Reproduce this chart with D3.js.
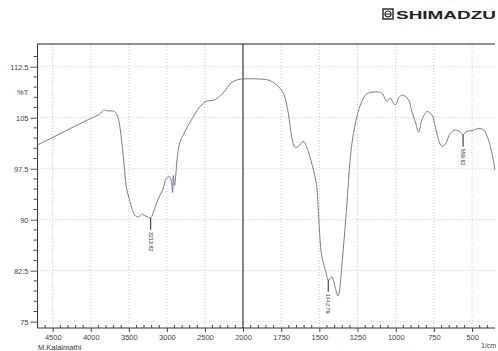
<!DOCTYPE html>
<html><head><meta charset="utf-8">
<script src="https://cdn.jsdelivr.net/npm/d3@7"></script>
<style>
html,body{margin:0;padding:0;background:#fff;}
svg{display:block;}
text{font-family:"Liberation Sans",Arial,sans-serif;}
</style></head>
<body>
<svg id="c" width="498" height="351"></svg>
<script>
// ---- data ----
const wavenumbers = [4700,4500,4200,4000,3885,3832,3780,3720,3687,3647,3595,3578,3556,3533,3490,3424,3384,3360,3331,3290,3252,3213,3170,3121,3055,3006,2962,2940,2925,2915,2900,2880,2870,2831,2765,2660,2567,2486,2380,2289,2200,2158,2065,2000,
  1900,1830,1779,1736,1703,1681,1659,1637,1605,1572,1539,1517,1506,1484,1456,1441,1418,1397,1378,1344,1318,1292,1259,1222,1189,1124,1091,1058,1037,1003,975,949,916,894,872,850,828,795,763,741,719,697,675,643,610,577,559,534,500,457,424,392,370,350];
const transmittance = [101.0,102.1,103.8,104.9,105.5,106.1,106.0,106.0,105.9,105.2,101.7,99.8,97.3,94.8,92.9,90.7,90.4,90.5,90.8,90.6,90.4,90.3,91.3,92.9,94.4,96.1,96.3,95.5,94.0,96.5,95.0,97.0,98.5,101.3,102.9,105.0,106.6,107.4,107.6,108.3,109.5,110.1,110.6,110.7,
  110.7,110.5,109.8,108.6,105.6,102.2,100.6,100.8,101.5,100.0,97.3,94.9,90.9,84.6,82.2,81.1,81.6,80.1,78.8,85.5,92.9,100.3,104.7,107.4,108.5,108.8,108.6,107.4,107.9,106.9,108.1,108.3,107.6,105.9,104.4,102.9,104.7,105.9,105.4,103.7,101.7,100.8,101.1,102.7,103.2,102.9,102.5,103.0,103.1,103.4,103.2,101.7,99.8,97.3];
const yTicks = [75,82.5,90,97.5,105,112.5];
const yTickLabels = ["75","82.5","90","97.5","105","112.5"];
const xTicksLeft = [4500,4000,3500,3000,2500,2000];
const xTicksRight = [1750,1500,1250,1000,750,500];
const peakWn = [3213,1442,559];
const peakLabels = ["3213.82","1442.79","559.82"];

// ---- layout ----
const svg = d3.select("#c");
const L = 37.5, R = 495, T = 44, B = 328;
const x = d3.scaleLinear().domain([4700,2000,350]).range([L,243,R]);
const y = d3.scaleLinear().domain([74.07,115.84]).range([B,T]);

// grid
const grid = svg.append("g").attr("stroke","#b8b8c8").attr("stroke-width",0.8).attr("stroke-dasharray","1,2");
grid.selectAll(".gx").data(xTicksLeft.concat(xTicksRight).filter(d=>d!==2000)).enter().append("line")
  .attr("x1",d=>x(d)).attr("x2",d=>x(d)).attr("y1",T).attr("y2",B);
grid.selectAll(".gy").data(yTicks).enter().append("line")
  .attr("x1",L).attr("x2",R).attr("y1",d=>y(d)).attr("y2",d=>y(d));

// frame
svg.append("line").attr("x1",L).attr("x2",R).attr("y1",T).attr("y2",T).attr("stroke","#222").attr("stroke-width",1.2);
svg.append("line").attr("x1",L).attr("x2",L).attr("y1",T).attr("y2",B).attr("stroke","#333").attr("stroke-width",1);
svg.append("line").attr("x1",L).attr("x2",R).attr("y1",B).attr("y2",B).attr("stroke","#333").attr("stroke-width",1);
svg.append("line").attr("x1",x(2000)).attr("x2",x(2000)).attr("y1",T).attr("y2",B).attr("stroke","#111").attr("stroke-width",1);

// y axis
const yAxis = d3.axisLeft(y).tickValues(yTicks).tickFormat((d,i)=>yTickLabels[i]).tickSize(7).tickPadding(2);
const gy = svg.append("g").attr("transform",`translate(${L},0)`).call(yAxis);
gy.select(".domain").remove();
gy.selectAll("line").attr("stroke","#556");
gy.selectAll("text").attr("font-size",7.5).attr("fill","#444");
const yMinor = d3.range(75,115.5,1.5).filter(v=>!yTicks.some(t=>Math.abs(t-v)<0.01));
svg.append("g").selectAll("line").data(yMinor).enter().append("line")
  .attr("x1",L-4).attr("x2",L).attr("y1",d=>y(d)).attr("y2",d=>y(d)).attr("stroke","#555");
svg.append("text").attr("x",17).attr("y",95).attr("font-size",7.5).attr("fill","#444").text("%T");

// x axis
const gx = svg.append("g").attr("transform",`translate(0,${B})`)
  .call(d3.axisBottom(x).tickValues(xTicksLeft.concat(xTicksRight)).tickSize(4).tickPadding(3).tickFormat(d3.format("d")));
gx.select(".domain").remove();
gx.selectAll("line").attr("stroke","#444");
gx.selectAll("text").attr("font-size",7.5).attr("fill","#444");
const xMinor = d3.range(4600,2000,-100).concat(d3.range(1950,350,-50))
  .filter(v=>!xTicksLeft.concat(xTicksRight).includes(v));
svg.append("g").selectAll("line").data(xMinor).enter().append("line")
  .attr("x1",d=>x(d)).attr("x2",d=>x(d)).attr("y1",B-3).attr("y2",B).attr("stroke","#444");
svg.append("text").attr("x",481).attr("y",348).attr("font-size",7).attr("fill","#444").text("1/cm");
svg.append("text").attr("x",38).attr("y",350).attr("font-size",7.5).attr("fill","#333").text("M.Kalaimathi");

// spectrum
const pts = wavenumbers.map((w,i)=>[w,transmittance[i]]);
svg.append("path").datum(pts)
  .attr("fill","none").attr("stroke","#6c6c82").attr("stroke-width",0.9)
  .attr("d",d3.line().x(d=>x(d[0])).y(d=>y(d[1])).curve(d3.curveCatmullRom));

// peak labels
const interp = w => {
  for (let i=0;i<wavenumbers.length-1;i++){
    const a=wavenumbers[i], b=wavenumbers[i+1];
    if (w<=a && w>=b) { const t=(a-w)/(a-b); return transmittance[i]+t*(transmittance[i+1]-transmittance[i]); }
  }
  return transmittance[0];
};
peakWn.forEach((w,i)=>{
  const px = x(w), py = y(interp(w));
  svg.append("line").attr("x1",px).attr("x2",px).attr("y1",py).attr("y2",py+12).attr("stroke","#222").attr("stroke-width",1);
  svg.append("text").attr("transform",`translate(${px-2},${py+14}) rotate(90)`)
    .attr("font-size",5.5).attr("fill","#333").text(peakLabels[i]);
});

// logo
const logo = svg.append("g").attr("transform","translate(383,9)");
logo.append("rect").attr("x",0).attr("y",0).attr("width",10).attr("height",10).attr("fill","none").attr("stroke","#222").attr("stroke-width",1.4);
logo.append("circle").attr("cx",5).attr("cy",5).attr("r",3).attr("fill","none").attr("stroke","#222").attr("stroke-width",1.2);
logo.append("line").attr("x1",2).attr("x2",8).attr("y1",5).attr("y2",5).attr("stroke","#222").attr("stroke-width",1);
logo.append("text").attr("x",13).attr("y",9.5).attr("font-size",10).attr("font-weight","bold").attr("fill","#222")
  .attr("textLength",100).attr("lengthAdjust","spacingAndGlyphs").text("SHIMADZU");
</script>
</body></html>
